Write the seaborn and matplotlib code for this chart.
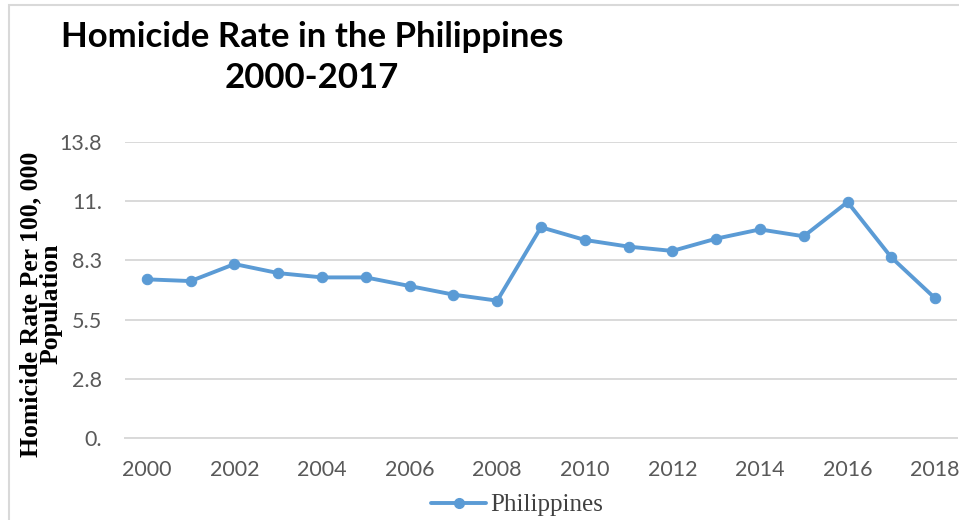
import matplotlib
matplotlib.use("Agg")
import matplotlib.pyplot as plt
import seaborn as sns
import pandas as pd
from matplotlib.patches import Rectangle
from matplotlib.lines import Line2D

# Homicide rate per 100,000 population, Philippines
years = list(range(2000, 2019))
rates = [7.37, 7.29, 8.08, 7.66, 7.46, 7.46, 7.06, 6.66, 6.38, 9.79,
         9.20, 8.89, 8.69, 9.26, 9.69, 9.37, 10.96, 8.39, 6.49]
series_name = "Philippines"

y_ticks = [0, 2.75, 5.5, 8.25, 11, 13.75]
y_tick_labels = ["0.", "2.8", "5.5", "8.3", "11.", "13.8"]
x_ticks = list(range(2000, 2019, 2))

df = pd.DataFrame({"Year": years, "Rate": rates, "Country": series_name})

sns.set_theme(style="white")
plt.rcParams["font.family"] = ["Lato", "DejaVu Sans"]

line_color = "#5B9BD5"
tick_color = "#595959"

fig = plt.figure(figsize=(9.59, 5.2), dpi=100)
ax = fig.add_axes([125 / 959, 1 - 438 / 520, (957 - 125) / 959, (438 - 142) / 520])

sns.lineplot(data=df, x="Year", y="Rate", ax=ax, color=line_color,
             linewidth=2.8, marker="o", markersize=7.5,
             markeredgecolor=line_color, markerfacecolor=line_color,
             legend=False)

ax.set_xlim(1999.5, 2018.5)
ax.set_ylim(0, 13.75)
ax.set_yticks(y_ticks)
ax.set_yticklabels(y_tick_labels)
ax.set_xticks(x_ticks)
ax.set_xticklabels([str(x) for x in x_ticks])
ax.tick_params(axis="both", length=0, labelsize=15.5, colors=tick_color)
ax.tick_params(axis="y", pad=16.5)
ax.tick_params(axis="x", pad=16)

ax.grid(axis="y", color="#D9D9D9", linewidth=1.4)
ax.set_axisbelow(True)
for side in ["top", "right", "left"]:
    ax.spines[side].set_visible(False)
ax.spines["bottom"].set_color("#D9D9D9")
ax.spines["bottom"].set_linewidth(1.4)

ax.set_xlabel("")
ax.set_ylabel("Homicide Rate Per 100, 000\nPopulation", family="Liberation Serif",
              fontweight="bold", fontsize=18.5, color="black",
              linespacing=0.85)
ax.yaxis.set_label_coords(-62 / 832, 0.453)

fig.text(312 / 959, 1 - 37 / 520, "Homicide Rate in the Philippines", ha="center",
         va="center", fontsize=25, fontweight="bold", color="black")
fig.text(312 / 959, 1 - 78 / 520, "2000-2017", ha="center", va="center",
         fontsize=25, fontweight="bold", color="black")

# chart-area border
fig.patches.append(Rectangle((9 / 959, -0.05), 1.1, 1 - 5 / 520 + 0.05,
                             transform=fig.transFigure, fill=False,
                             edgecolor="#D9D9D9", linewidth=1.5))

handle = Line2D([], [], color=line_color, linewidth=2.8, marker="o",
                markersize=7, markeredgecolor=line_color)
fig.legend([handle], [series_name], loc="center", bbox_to_anchor=(517 / 959, 1 - 505 / 520),
           frameon=False, prop={"family": "Liberation Serif", "size": 18},
           labelcolor="#404040", handlelength=2.2, handletextpad=0.15)

fig.savefig("out.png", dpi=100)
